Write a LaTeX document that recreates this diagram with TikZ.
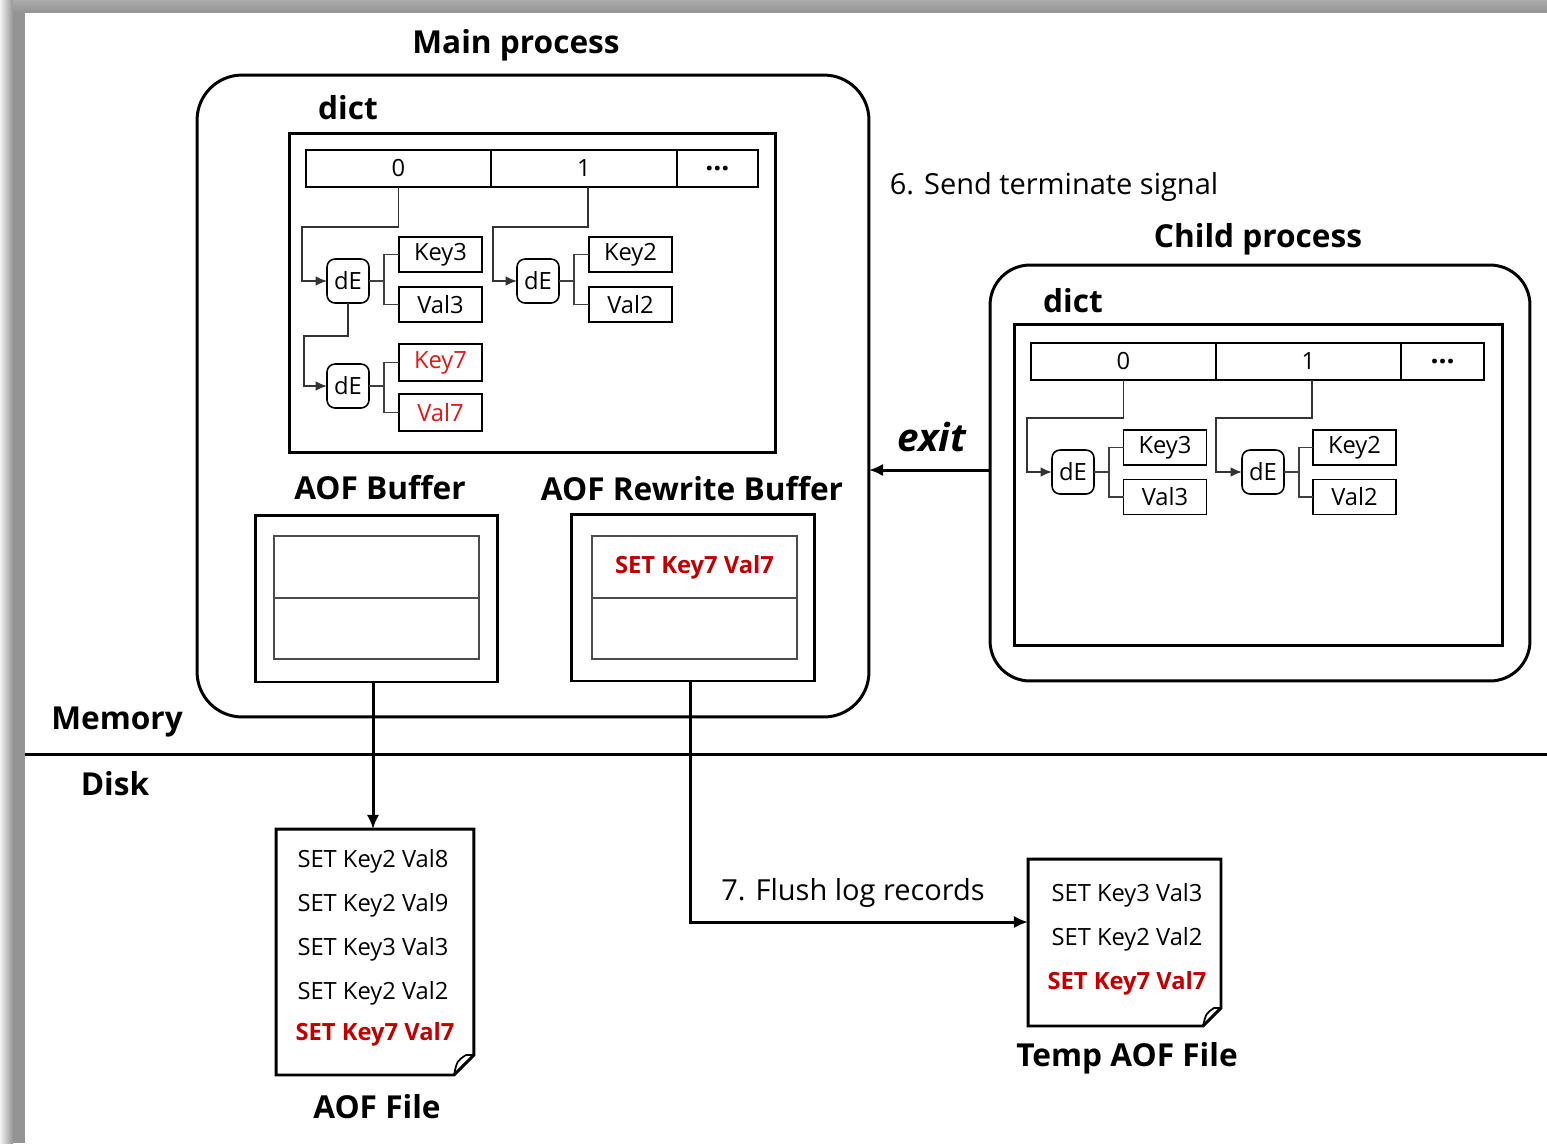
\documentclass[tikz,border=0pt]{standalone}
\usepackage{fontspec}
\setmainfont{Open Sans}
\usetikzlibrary{arrows.meta}
\definecolor{dred}{HTML}{C00000}
\definecolor{lred}{HTML}{E01818}
\begin{document}
\begin{tikzpicture}[x=0.02cm,y=-0.02cm,
 every node/.style={inner sep=0pt, outer sep=0pt},
 bigbox/.style={draw, line width=1.7pt, rounded corners=0.9cm},
 box/.style={draw, line width=1.7pt},
 cell/.style={draw, line width=0.9pt, minimum height=0.74cm, font=\fontsize{13.5}{15}\selectfont},
 kv/.style={draw, line width=0.9pt, minimum width=1.66cm, minimum height=0.7cm, font=\fontsize{13.5}{15}\selectfont},
 de/.style={draw, line width=0.9pt, rounded corners=0.16cm, minimum width=0.84cm, minimum height=0.88cm, font=\fontsize{13.5}{15}\selectfont},
 link/.style={draw=black!75, line width=0.9pt},
 ptr/.style={draw=black!80, line width=1pt, -{Latex[length=6.5pt,width=5.5pt]}},
 ttl/.style={font=\fontsize{18}{21}\selectfont\bfseries},
 lbl/.style={font=\fontsize{16.5}{19}\selectfont},
 rec/.style={font=\fontsize{13.5}{15}\selectfont},
 redrec/.style={font=\fontsize{13.5}{15}\selectfont\bfseries, text=dred},
 bigarrow/.style={line width=1.7pt, -{Latex[length=8pt,width=7pt]}},
 innerbox/.style={draw=black!70, line width=0.9pt},
 filebox/.style={line width=1.7pt, line join=miter},
 dots/.style={font=\fontsize{16}{18}\selectfont\bfseries},
]
\useasboundingbox (0,0) rectangle (1547,1143);
\fill[white] (0,0) rectangle (1547,1143);
\shade[left color=black!5, right color=black!42] (0,0) rectangle (13,1143);
\fill[black!42] (13,0) rectangle (25,1143);
\shade[top color=black!33, bottom color=black!42] (13,0) rectangle (1547,12);

% ---------- Main process ----------
\node[ttl] (mainlbl) at (516,45) {Main process};
\node[bigbox, minimum width=13.44cm, minimum height=12.84cm] (main) at (533,396) {};
\node[ttl] (mdictlbl) at (348,108) {dict};
\node[box, minimum width=9.74cm, minimum height=6.4cm] (mdict) at (532.5,293) {};
\node[cell, minimum width=3.7cm] (m0) at (398.5,168.5) {0};
\node[cell, minimum width=3.72cm] (m1) at (584,168.5) {1};
\node[cell, minimum width=1.62cm, dots] (md) at (717.5,168.5) {…};

\node[de] (mde1) at (348,281) {dE};
\node[de] (mde2) at (538,281) {dE};
\node[de] (mde3) at (348,386) {dE};
\node[kv] (mk3) at (440.5,254.5) {Key3};
\node[kv] (mv3) at (440.5,304.5) {Val3};
\node[kv] (mk2) at (630.5,254.5) {Key2};
\node[kv] (mv2) at (630.5,304.5) {Val2};
\node[kv, minimum height=0.74cm, text=lred] (mk7) at (440.5,362.5) {Key7};
\node[kv, minimum height=0.74cm, text=lred] (mv7) at (440.5,412.5) {Val7};

\draw[ptr] (m0.south) -- ++(0,40) -| ([xshift=-0.5cm]mde1.west) -- (mde1.west);
\draw[ptr] ([xshift=0.08cm]m1.south) -- ++(0,40) -| ([xshift=-0.48cm]mde2.west) -- (mde2.west);
\draw[ptr] (mde1.south) -- ++(0,33) -| ([xshift=-0.46cm]mde3.west) -- (mde3.west);

\draw[link] (mde1.east) -- ++(15,0) coordinate (j1);
\draw[link] (mk3.west) -| (j1) |- (mv3.west);
\draw[link] (mde2.east) -- ++(15,0) coordinate (j2);
\draw[link] (mk2.west) -| (j2) |- (mv2.west);
\draw[link] (mde3.east) -- ++(15,0) coordinate (j3);
\draw[link] (mk7.west) -| (j3) |- (mv7.west);

% AOF buffers
\node[ttl] (aoflbl) at (380,488) {AOF Buffer};
\node[box, minimum width=4.86cm, minimum height=3.34cm] (aofbuf) at (376.5,598.5) {};
\node[innerbox, minimum width=4.1cm, minimum height=1.24cm] (ab1) at (376.5,567) {};
\node[innerbox, minimum width=4.1cm, minimum height=1.22cm] (ab2) at (376.5,628.5) {};

\node[ttl] (rwlbl) at (692,489) {AOF Rewrite Buffer};
\node[box, minimum width=4.88cm, minimum height=3.34cm] (rwbuf) at (693,597.5) {};
\node[innerbox, minimum width=4.1cm, minimum height=1.24cm, redrec] (rb1) at (694.5,567) {SET Key7 Val7};
\node[innerbox, minimum width=4.1cm, minimum height=1.22cm] (rb2) at (694.5,628.5) {};

% Memory / Disk
\node[ttl] (mem) at (117,722) {Memory};
\node[ttl] (disk) at (115,784) {Disk};
\draw[line width=1.7pt] (25,754) -- (1547,754);

% AOF File
\node[minimum width=3.96cm, minimum height=4.92cm] (aoffile) at (375,952) {};
\draw[filebox] (aoffile.north west) -- (aoffile.north east) -- ([yshift=0.4cm]aoffile.south east) -- ([xshift=-0.4cm]aoffile.south east) -- (aoffile.south west) -- cycle;
\draw[line width=1pt] ([xshift=-0.4cm]aoffile.south east) .. controls ([xshift=-0.34cm,yshift=0.28cm]aoffile.south east) .. ([xshift=-0.16cm,yshift=0.4cm]aoffile.south east) -- ([yshift=0.4cm]aoffile.south east);
\node[rec] (af1) at (373,861) {SET Key2 Val8};
\node[rec] (af2) at (373,905) {SET Key2 Val9};
\node[rec] (af3) at (373,949) {SET Key3 Val3};
\node[rec] (af4) at (373,993) {SET Key2 Val2};
\node[redrec] (af5) at (375,1034) {SET Key7 Val7};
\node[ttl] (aoffilelbl) at (377,1107) {AOF File};

% Temp AOF File
\node[minimum width=3.86cm, minimum height=3.34cm] (tmpfile) at (1124.5,942.5) {};
\draw[filebox] (tmpfile.north west) -- (tmpfile.north east) -- ([yshift=0.36cm]tmpfile.south east) -- ([xshift=-0.36cm]tmpfile.south east) -- (tmpfile.south west) -- cycle;
\draw[line width=1pt] ([xshift=-0.36cm]tmpfile.south east) .. controls ([xshift=-0.3cm,yshift=0.25cm]tmpfile.south east) .. ([xshift=-0.14cm,yshift=0.36cm]tmpfile.south east) -- ([yshift=0.36cm]tmpfile.south east);
\node[rec] (tf1) at (1127,895) {SET Key3 Val3};
\node[rec] (tf2) at (1127,939) {SET Key2 Val2};
\node[redrec] (tf3) at (1127,983) {SET Key7 Val7};
\node[ttl] (tmpfilelbl) at (1127,1058) {Temp AOF File};

% arrows to disk
\draw[bigarrow] ([xshift=-0.07cm]aofbuf.south) -- ([xshift=-0.07cm]aofbuf.south |- aoffile.north);
\coordinate (fl) at (690,922);
\draw[bigarrow] ([xshift=-0.06cm]rwbuf.south) |- (tmpfile.west |- fl);
\node[lbl] (flushlbl) at (853,893) {7. Flush log records};

% ---------- Child process ----------
\node[lbl] (sendlbl) at (1054,187) {6. Send terminate signal};
\node[ttl] (childlbl) at (1258,239) {Child process};
\node[bigbox, rounded corners=0.8cm, minimum width=10.8cm, minimum height=8.32cm] (child) at (1260,473) {};
\node[ttl] (cdictlbl) at (1073,301) {dict};
\node[box, minimum width=9.78cm, minimum height=6.44cm] (cdict) at (1258.5,485) {};
\node[cell, minimum width=3.7cm] (c0) at (1123.5,361.5) {0};
\node[cell, minimum width=3.7cm] (c1) at (1308.5,361.5) {1};
\node[cell, minimum width=1.66cm, dots] (cd) at (1442.5,361.5) {…};

\node[de] (cde1) at (1073,472) {dE};
\node[de] (cde2) at (1263,472) {dE};
\node[kv] (ck3) at (1165,447.5) {Key3};
\node[kv] (cv3) at (1165,497) {Val3};
\node[kv] (ck2) at (1354.5,447.5) {Key2};
\node[kv] (cv2) at (1354.5,497) {Val2};

\draw[ptr] (c0.south) -- ++(0,38) -| ([xshift=-0.5cm]cde1.west) -- (cde1.west);
\draw[ptr] ([xshift=0.07cm]c1.south) -- ++(0,38) -| ([xshift=-0.52cm]cde2.west) -- (cde2.west);
\draw[link] (cde1.east) -- ++(15,0) coordinate (j4);
\draw[link] (ck3.west) -| (j4) |- (cv3.west);
\draw[link] (cde2.east) -- ++(15,0) coordinate (j5);
\draw[link] (ck2.west) -| (j5) |- (cv2.west);

% exit
\node[font=\fontsize{22}{25}\selectfont\bfseries\itshape] (exitlbl) at (932,437) {exit};
\coordinate (ex) at (900,470);
\draw[bigarrow] (child.west |- ex) -- (main.east |- ex);
\end{tikzpicture}
\end{document}
